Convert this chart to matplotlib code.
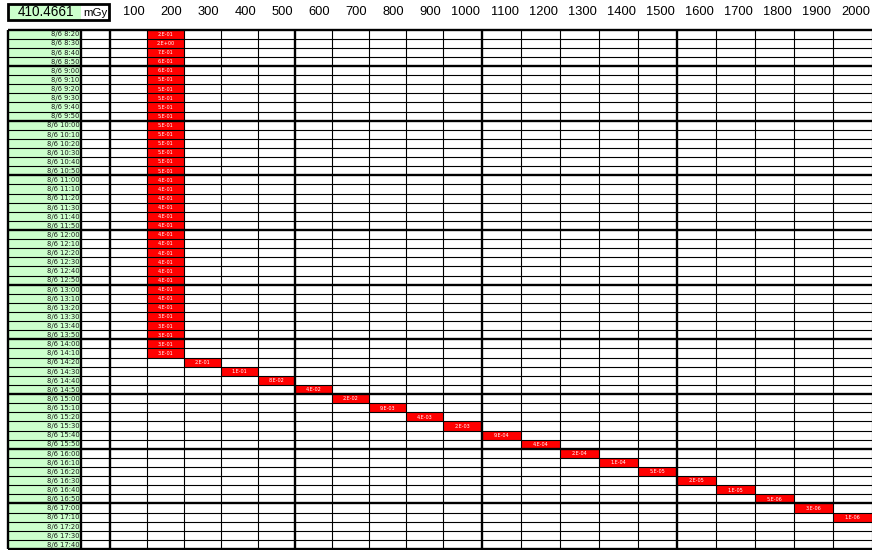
import matplotlib
matplotlib.use("Agg")
import matplotlib.pyplot as plt
from matplotlib.patches import Rectangle

# ---- data ---------------------------------------------------------------
total_dose = "410.4661"
dose_unit = "mGy"

dose_bins = [100, 200, 300, 400, 500, 600, 700, 800, 900, 1000,
             1100, 1200, 1300, 1400, 1500, 1600, 1700, 1800, 1900, 2000]

times = [
    "8/6 8:20", "8/6 8:30", "8/6 8:40", "8/6 8:50",
    "8/6 9:00", "8/6 9:10", "8/6 9:20", "8/6 9:30", "8/6 9:40", "8/6 9:50",
    "8/6 10:00", "8/6 10:10", "8/6 10:20", "8/6 10:30", "8/6 10:40", "8/6 10:50",
    "8/6 11:00", "8/6 11:10", "8/6 11:20", "8/6 11:30", "8/6 11:40", "8/6 11:50",
    "8/6 12:00", "8/6 12:10", "8/6 12:20", "8/6 12:30", "8/6 12:40", "8/6 12:50",
    "8/6 13:00", "8/6 13:10", "8/6 13:20", "8/6 13:30", "8/6 13:40", "8/6 13:50",
    "8/6 14:00", "8/6 14:10", "8/6 14:20", "8/6 14:30", "8/6 14:40", "8/6 14:50",
    "8/6 15:00", "8/6 15:10", "8/6 15:20", "8/6 15:30", "8/6 15:40", "8/6 15:50",
    "8/6 16:00", "8/6 16:10", "8/6 16:20", "8/6 16:30", "8/6 16:40", "8/6 16:50",
    "8/6 17:00", "8/6 17:10", "8/6 17:20", "8/6 17:30", "8/6 17:40",
]

# dose rate per interval (None = no entry)
rates = [
    2e-1, 2e0, 7e-1, 6e-1,
    6e-1, 5e-1, 5e-1, 5e-1, 5e-1, 5e-1,
    5e-1, 5e-1, 5e-1, 5e-1, 5e-1, 5e-1,
    4e-1, 4e-1, 4e-1, 4e-1, 4e-1, 4e-1,
    4e-1, 4e-1, 4e-1, 4e-1, 4e-1, 4e-1,
    4e-1, 4e-1, 4e-1, 3e-1, 3e-1, 3e-1,
    3e-1, 3e-1, 2e-1, 1e-1, 8e-2, 4e-2,
    2e-2, 9e-3, 4e-3, 2e-3, 9e-4, 4e-4,
    2e-4, 1e-4, 5e-5, 2e-5, 1e-5, 5e-6,
    3e-6, 1e-6, None, None, None,
]

# cumulative-dose bin in which each interval's entry is placed
rate_bins = [
    200, 200, 200, 200,
    200, 200, 200, 200, 200, 200,
    200, 200, 200, 200, 200, 200,
    200, 200, 200, 200, 200, 200,
    200, 200, 200, 200, 200, 200,
    200, 200, 200, 200, 200, 200,
    200, 200, 300, 400, 500, 600,
    700, 800, 900, 1000, 1100, 1200,
    1300, 1400, 1500, 1600, 1700, 1800,
    1900, 2000, None, None, None,
]


def excel_sci(v):
    """Format like a spreadsheet '0.E+00' cell."""
    m, e = f"{v:.0e}".split("e")
    sign = e[0]
    return f"{m}.E{sign}{int(e[1:]):02d}"


# ---- layout -------------------------------------------------------------
W, H = 872, 550
fig = plt.figure(figsize=(W / 100, H / 100), dpi=100)
ax = fig.add_axes([0, 0, 1, 1])
ax.set_xlim(0, W)
ax.set_ylim(H, 0)
ax.axis("off")

label_x0, label_x1 = 8, 81
blank_x1 = 110
# column edges of the dose bins
col_edges = [blank_x1]
for b in dose_bins:
    col_edges.append(col_edges[-1] + (37 if b < 1000 else 39))
table_x1 = col_edges[-1]

top, bottom = 29.5, 549
n_rows = len(times)
row_h = (bottom - top) / n_rows
row_edges = [top + i * row_h for i in range(n_rows + 1)]

green = "#ccffcc"
red = "#ff0000"
thin, thick = 0.8, 1.7

# header box with the total dose
ax.add_patch(Rectangle((label_x0, 4), label_x1 - label_x0, 16,
                       facecolor=green, edgecolor="none"))
ax.add_patch(Rectangle((label_x0, 4), blank_x1 - 1 - label_x0, 16,
                       facecolor="none", edgecolor="black", lw=2.0))
ax.text(46, 12.3, total_dose, ha="center", va="center",
        fontsize=9.8, family="Liberation Sans")
ax.text(95, 12.8, dose_unit, ha="center", va="center",
        fontsize=8.2, family="Liberation Sans")

# column headers (right aligned like spreadsheet numbers)
for i, b in enumerate(dose_bins):
    ax.text(col_edges[i + 1] - 2, 12.3, str(b), ha="right", va="center",
            fontsize=9.3, family="Liberation Sans")

# label column
ax.add_patch(Rectangle((label_x0, top), label_x1 - label_x0, bottom - top,
                       facecolor=green, edgecolor="none"))
for i, t in enumerate(times):
    yc = (row_edges[i] + row_edges[i + 1]) / 2
    ax.text(label_x1 - 1.5, yc + 0.3, t, ha="right", va="center",
            fontsize=4.9, color="#1a1a1a", family="DejaVu Sans")

# dose-rate cells
for i, (v, b) in enumerate(zip(rates, rate_bins)):
    if v is None:
        continue
    c = dose_bins.index(b)
    x0, x1 = col_edges[c], col_edges[c + 1]
    y0, y1 = row_edges[i], row_edges[i + 1]
    ax.add_patch(Rectangle((x0, y0), x1 - x0, y1 - y0,
                           facecolor=red, edgecolor="none"))
    ax.text((x0 + x1) / 2, (y0 + y1) / 2 + 0.3, excel_sci(v),
            ha="center", va="center", fontsize=3.5, color="white",
            family="DejaVu Sans")

# horizontal grid lines (heavier at each full hour)
for i, y in enumerate(row_edges):
    heavy = i == 0 or i == n_rows or times[i].endswith(":00")
    ax.plot([label_x0, table_x1], [y, y], color="black",
            lw=thick if heavy else thin, solid_capstyle="butt")

# vertical grid lines (heavier at table edges and every 500 mGy)
v_lines = [(label_x0, True), (label_x1, True), (blank_x1, True)]
for i, b in enumerate(dose_bins):
    v_lines.append((col_edges[i + 1], b % 500 == 0 and b < 2000))
for x, heavy in v_lines:
    ax.plot([x, x], [top, bottom], color="black",
            lw=thick if heavy else thin, solid_capstyle="butt")

fig.savefig("out.png", dpi=100)
